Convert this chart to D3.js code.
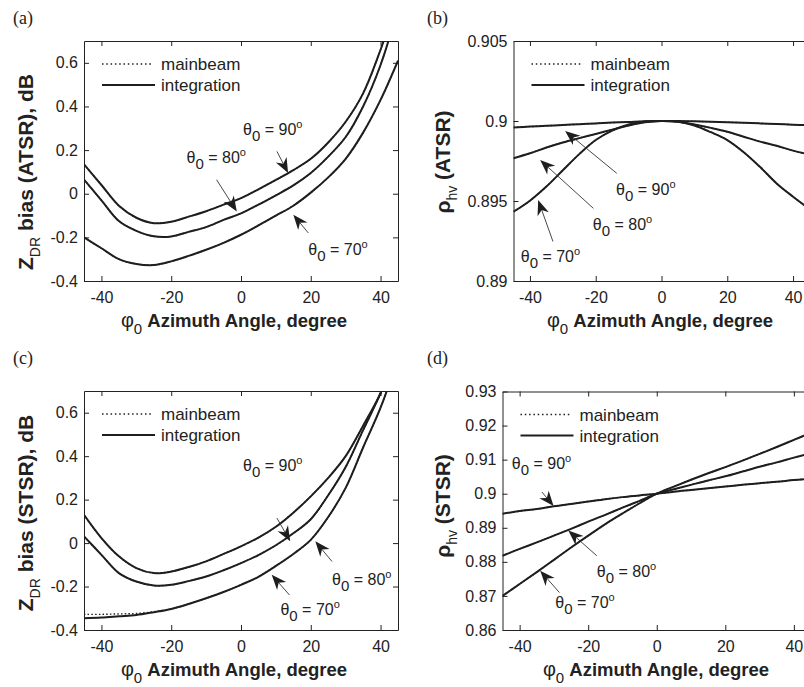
<!DOCTYPE html>
<html>
<head>
<meta charset="utf-8">
<script src="https://cdn.jsdelivr.net/npm/d3@7"></script>
<style>
  body { margin: 0; background: #fff; }
  svg text { font-family: "Liberation Sans", Arial, sans-serif; fill: #222; }
  .tag { font-family: "Liberation Serif", "Times New Roman", serif; font-size: 18px; }
  .tick text { font-size: 16px; }
  .axis path, .axis line { stroke: #222; stroke-width: 1; }
</style>
</head>
<body>
<svg id="fig" width="804" height="687"></svg>
<script>
// ---------- DATA ---------- //
// azimuth samples, degree
const phi = [-45, -40, -35, -30, -25, -20, -15, -10, -5, 0, 5, 10, 15, 20, 25, 30, 35, 40, 45];
const xTicks = [-40, -20, 0, 20, 40];

// (a) ZDR bias, ATSR  (theta0 = 90, 80, 70)
const zdrAtsr90 = [0.135, 0.04, -0.055, -0.11, -0.135, -0.128, -0.105, -0.08, -0.05, -0.02, 0.02, 0.063, 0.108, 0.16, 0.235, 0.33, 0.46, 0.66, 0.9];
const zdrAtsr80 = [0.065, -0.03, -0.125, -0.17, -0.195, -0.196, -0.175, -0.153, -0.12, -0.09, -0.05, -0.007, 0.038, 0.095, 0.17, 0.26, 0.4, 0.59, 0.85];
const zdrAtsr70 = [-0.2, -0.25, -0.3, -0.322, -0.327, -0.31, -0.285, -0.257, -0.225, -0.188, -0.145, -0.1, -0.055, 0.005, 0.075, 0.16, 0.28, 0.43, 0.61];

// (b) rho_hv, ATSR
const rhoAtsr90 = [0.8996, 0.89965, 0.8997, 0.89975, 0.8998, 0.89985, 0.8999, 0.89994, 0.89998, 0.9, 0.9, 0.89998, 0.89995, 0.89992, 0.89989, 0.89985, 0.89981, 0.89977, 0.89973];
const rhoAtsr80 = [0.89767, 0.89798, 0.89834, 0.89866, 0.89893, 0.89919, 0.89946, 0.89972, 0.89992, 0.9, 0.89995, 0.89978, 0.89957, 0.89933, 0.89902, 0.89871, 0.89845, 0.89815, 0.8979];
const rhoAtsr70 = [0.89433, 0.89502, 0.8959, 0.89692, 0.89793, 0.89881, 0.8994, 0.89978, 0.89997, 0.9, 0.89995, 0.89972, 0.8993, 0.89881, 0.89805, 0.89712, 0.8961, 0.89527, 0.8945];

// (c) ZDR bias, STSR
const zdrStsr90 = [0.13, 0.023, -0.061, -0.115, -0.138, -0.131, -0.11, -0.084, -0.05, -0.015, 0.025, 0.075, 0.14, 0.215, 0.3, 0.4, 0.54, 0.69, 0.9];
const zdrStsr80 = [0.031, -0.054, -0.138, -0.177, -0.195, -0.192, -0.175, -0.154, -0.125, -0.092, -0.055, -0.01, 0.045, 0.11, 0.22, 0.35, 0.52, 0.69, 0.9];
const zdrStsr70 = [-0.346, -0.343, -0.337, -0.331, -0.318, -0.303, -0.28, -0.254, -0.225, -0.192, -0.155, -0.105, -0.05, 0.015, 0.12, 0.254, 0.44, 0.623, 0.85];
// mainbeam differs from integration only at the left end of theta0 = 70
const zdrStsr70Main = [-0.328, -0.328, -0.326, -0.324, -0.316, -0.303, -0.28, -0.254, -0.225, -0.192, -0.155, -0.105, -0.05, 0.015, 0.12, 0.254, 0.44, 0.623, 0.85];

// (d) rho_hv, STSR
const rhoStsr90 = [0.8941, 0.8949, 0.8955, 0.8963, 0.897, 0.8977, 0.8984, 0.899, 0.8995, 0.9, 0.9006, 0.9011, 0.9016, 0.9021, 0.9026, 0.9031, 0.9035, 0.904, 0.9044];
const rhoStsr80 = [0.8818, 0.8838, 0.8857, 0.8877, 0.8897, 0.8918, 0.8938, 0.8959, 0.8979, 0.9, 0.9013, 0.9026, 0.9039, 0.9051, 0.9065, 0.9079, 0.9092, 0.9106, 0.9119];
const rhoStsr70 = [0.87, 0.8735, 0.877, 0.8806, 0.8842, 0.8877, 0.8911, 0.8942, 0.8972, 0.9, 0.9021, 0.9041, 0.906, 0.9078, 0.9097, 0.9117, 0.9137, 0.9158, 0.9179];

// tick values
const zdrTicks = [-0.4, -0.2, 0, 0.2, 0.4, 0.6];
const rhoAtsrTicks = [0.89, 0.895, 0.9, 0.905];
const rhoStsrTicks = [0.86, 0.87, 0.88, 0.89, 0.9, 0.91, 0.92, 0.93];

// annotations, in data units: label (lx,ly), arrow tail (tx,ty), arrow tip (hx,hy)
const notesA = [
  {theta: "90", lx: 0.6, ly: 0.27, tx: 10.3, ty: 0.194, hx: 13.5, hy: 0.095},
  {theta: "80", lx: -15.6, ly: 0.14, tx: -7.0, ty: 0.064, hx: -1.2, hy: -0.081},
  {theta: "70", lx: 19.3, ly: -0.28, tx: 19.3, ty: -0.18, hx: 15.0, hy: -0.096}
];
const notesB = [
  {theta: "90", lx: -13.8, ly: 0.89535, tx: -13.6, ty: 0.89673, hx: -29.3, hy: 0.89938},
  {theta: "80", lx: -20.9, ly: 0.89319, tx: -20.7, ty: 0.89454, hx: -36.9, hy: 0.89756},
  {theta: "70", lx: -42.8, ly: 0.89116, tx: -33.0, ty: 0.89247, hx: -37.5, hy: 0.89506}
];
const notesC = [
  {theta: "90", lx: 0.6, ly: 0.331, tx: 10.3, ty: 0.115, hx: 14.1, hy: 0.008},
  {theta: "80", lx: 26.1, ly: -0.193, tx: 26.1, ty: -0.085, hx: 21.3, hy: 0.008},
  {theta: "70", lx: 11.3, ly: -0.331, tx: 13.9, ty: -0.239, hx: 8.8, hy: -0.146}
];
const notesD = [
  {theta: "90", lx: -42.3, ly: 0.9074, tx: -33.5, ty: 0.9005, hx: -30.1, hy: 0.89636},
  {theta: "80", lx: -17.5, ly: 0.8757, tx: -17.5, ty: 0.8818, hx: -25.8, hy: 0.8892},
  {theta: "70", lx: -29.6, ly: 0.8666, tx: -28.4, ty: 0.871, hx: -34.0, hy: 0.8774}
];

// ---------- LAYOUT ---------- //
const panels = [
  {tag: "(a)", tagX: 13, tagY: 24, left: 84, right: 398, top: 41, bottom: 281,
   yDomain: [-0.4, 0.7], yTicks: zdrTicks, yLab: ["Z", "DR", " bias (ATSR), dB"], yLabX: 33, yLabY: 172, xLabX: 234,
   integ: [zdrAtsr90, zdrAtsr80, zdrAtsr70], main: [zdrAtsr90, zdrAtsr80, zdrAtsr70], notes: notesA},
  {tag: "(b)", tagX: 427, tagY: 24, left: 513.5, right: 809.5, top: 41, bottom: 281,
   yDomain: [0.89, 0.905], yTicks: rhoAtsrTicks, yLab: ["\u03c1", "hv", " (ATSR)"], yLabX: 450, yLabY: 162, xLabX: 660,
   integ: [rhoAtsr90, rhoAtsr80, rhoAtsr70], main: [rhoAtsr90, rhoAtsr80, rhoAtsr70], notes: notesB},
  {tag: "(c)", tagX: 13, tagY: 364, left: 84, right: 398, top: 391, bottom: 630,
   yDomain: [-0.4, 0.7], yTicks: zdrTicks, yLab: ["Z", "DR", " bias (STSR), dB"], yLabX: 33, yLabY: 513, xLabX: 234,
   integ: [zdrStsr90, zdrStsr80, zdrStsr70], main: [zdrStsr90, zdrStsr80, zdrStsr70Main], notes: notesC},
  {tag: "(d)", tagX: 427, tagY: 364, left: 502.5, right: 811, top: 391.5, bottom: 630,
   yDomain: [0.86, 0.93], yTicks: rhoStsrTicks, yLab: ["\u03c1", "hv", " (STSR)"], yLabX: 450, yLabY: 506, xLabX: 656,
   integ: [rhoStsr90, rhoStsr80, rhoStsr70], main: [rhoStsr90, rhoStsr80, rhoStsr70], notes: notesD}
];

const svg = d3.select("#fig");
const ink = "#1e1e1e";
const fmt = d => String(+d.toFixed(3));

panels.forEach((p, i) => {
  const x = d3.scaleLinear().domain([-45, 45]).range([p.left, p.right]);
  const y = d3.scaleLinear().domain(p.yDomain).range([p.bottom, p.top]);

  // panel tag
  svg.append("text").attr("class", "tag")
    .attr("x", p.tagX).attr("y", p.tagY).text(p.tag);

  // clip
  svg.append("clipPath").attr("id", "clip" + i)
    .append("rect")
    .attr("x", p.left).attr("y", p.top)
    .attr("width", p.right - p.left).attr("height", p.bottom - p.top);

  // axes (box, ticks inside)
  svg.append("g").attr("class", "axis")
    .attr("transform", "translate(0," + p.bottom + ")")
    .call(d3.axisBottom(x).tickValues(xTicks).tickSizeInner(-5).tickSizeOuter(0).tickPadding(10.5).tickFormat(fmt));
  svg.append("g").attr("class", "axis")
    .attr("transform", "translate(0," + p.top + ")")
    .call(d3.axisTop(x).tickValues(xTicks).tickSizeInner(-5).tickSizeOuter(0).tickFormat(""));
  svg.append("g").attr("class", "axis")
    .attr("transform", "translate(" + p.left + ",0)")
    .call(d3.axisLeft(y).tickValues(p.yTicks).tickSizeInner(-5).tickSizeOuter(0).tickPadding(6).tickFormat(fmt));
  svg.append("g").attr("class", "axis")
    .attr("transform", "translate(" + p.right + ",0)")
    .call(d3.axisRight(y).tickValues(p.yTicks).tickSizeInner(-5).tickSizeOuter(0).tickFormat(""));
  svg.selectAll(".tick text").attr("fill", "#222");

  // curves
  const line = d3.line()
    .x((d, k) => x(phi[k]))
    .y(d => y(d))
    .curve(d3.curveCatmullRom.alpha(0.5));

  const g = svg.append("g").attr("clip-path", "url(#clip" + i + ")");
  p.main.forEach(s => {
    g.append("path").attr("d", line(s))
      .attr("fill", "none").attr("stroke", ink)
      .attr("stroke-width", 1.4).attr("stroke-dasharray", "1.5,2.2");
  });
  p.integ.forEach(s => {
    g.append("path").attr("d", line(s))
      .attr("fill", "none").attr("stroke", ink)
      .attr("stroke-width", 2);
  });

  // legend
  const lx = p.left + 18, ly = p.top + 23;
  svg.append("line").attr("x1", lx).attr("x2", lx + 50).attr("y1", ly).attr("y2", ly)
    .attr("stroke", ink).attr("stroke-width", 1.4).attr("stroke-dasharray", "1.5,2.8");
  svg.append("text").attr("x", lx + 59).attr("y", ly + 6).attr("font-size", 17).text("mainbeam");
  svg.append("line").attr("x1", lx).attr("x2", lx + 53).attr("y1", ly + 21).attr("y2", ly + 21)
    .attr("stroke", ink).attr("stroke-width", 2.2);
  svg.append("text").attr("x", lx + 59).attr("y", ly + 27).attr("font-size", 17).text("integration");

  // annotations
  p.notes.forEach(n => {
    const sx = x(n.tx), sy = y(n.ty), hx = x(n.hx), hy = y(n.hy);
    const len = Math.hypot(hx - sx, hy - sy);
    const ux = (hx - sx) / len, uy = (hy - sy) / len;
    const L = 15, W = 6;
    svg.append("line")
      .attr("x1", sx).attr("y1", sy)
      .attr("x2", hx - 0.7 * L * ux).attr("y2", hy - 0.7 * L * uy)
      .attr("stroke", "#333").attr("stroke-width", 0.9);
    const pts = [
      [hx, hy],
      [hx - L * ux - W * uy, hy - L * uy + W * ux],
      [hx - 0.7 * L * ux, hy - 0.7 * L * uy],
      [hx - L * ux + W * uy, hy - L * uy - W * ux]
    ];
    svg.append("polygon").attr("points", pts.map(q => q.join(",")).join(" ")).attr("fill", ink);

    const t = svg.append("text").attr("x", x(n.lx)).attr("y", y(n.ly)).attr("font-size", 16);
    t.append("tspan").text("\u03b8");
    t.append("tspan").attr("dy", 6).attr("font-size", 15).text("0");
    t.append("tspan").attr("dy", -6).text(" = " + n.theta);
    t.append("tspan").attr("dy", -7).attr("font-size", 11).text("o");
  });

  // x label
  const xl = svg.append("text")
    .attr("x", p.xLabX).attr("y", p.bottom + 46)
    .attr("text-anchor", "middle").attr("font-size", 18.5).attr("font-weight", "bold");
  xl.append("tspan").attr("font-weight", "normal").attr("font-size", 20).text("\u03c6");
  xl.append("tspan").attr("dy", 7).attr("font-size", 15).attr("font-weight", "normal").text("0");
  xl.append("tspan").attr("dy", -7).text(" Azimuth Angle, degree");

  // y label
  const yl = svg.append("text")
    .attr("transform", "translate(" + p.yLabX + "," + p.yLabY + ") rotate(-90)")
    .attr("text-anchor", "middle").attr("font-size", 21).attr("font-weight", "bold");
  yl.append("tspan").text(p.yLab[0]);
  yl.append("tspan").attr("dy", 7).attr("font-size", 14).attr("font-weight", "normal").text(p.yLab[1]);
  yl.append("tspan").attr("dy", -7).text(p.yLab[2]);
});
</script>
</body>
</html>
